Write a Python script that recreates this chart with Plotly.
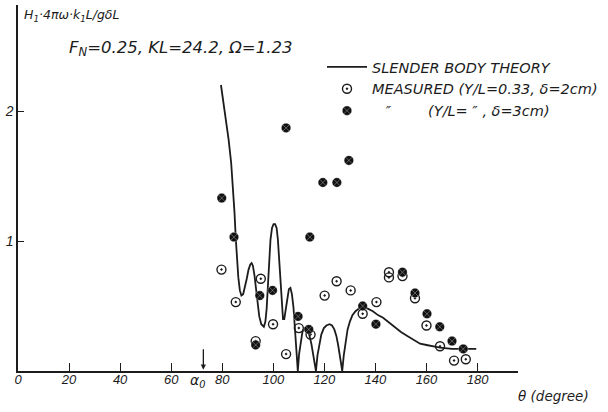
import plotly.graph_objects as go

# ---- data ----
theory_deg = [79.5, 80.5, 81.5, 82.5, 83.5, 84.2, 84.8, 85.3, 85.8, 86.3,
              86.9, 87.5, 88.2, 88.9, 89.6, 90.3, 91.0, 91.5, 92.0, 92.6,
              93.2, 93.8, 94.5, 95.3, 96.3, 96.9, 97.4, 97.9, 98.4, 98.9,
              99.5, 100.1, 100.7, 101.3, 101.8, 102.3, 102.8, 103.3, 103.8, 104.3,
              104.9, 105.5, 106.1, 106.7, 107.3, 107.9, 108.5, 109.1, 109.6, 110.1,
              110.7, 111.4, 112.1, 112.8, 113.5, 114.2, 114.9, 115.6, 116.2, 116.7,
              117.3, 118.0, 118.8, 119.8, 120.8, 122.0, 123.0, 123.9, 124.7, 125.4,
              126.1, 127.0, 127.6, 128.3, 129.1, 130.0, 131.0, 132.2, 133.5, 135.2,
              137.0, 139.0, 141.0, 143.0, 145.0, 147.5, 150.0, 152.5, 155.0, 157.5,
              160.0, 162.5, 165.3, 170.0, 175.0, 179.5]
theory_val = [2.20, 2.07, 1.93, 1.78, 1.60, 1.42, 1.22, 1.02, 0.85, 0.72,
              0.62, 0.58, 0.59, 0.64, 0.71, 0.78, 0.82, 0.83, 0.81, 0.74,
              0.63, 0.51, 0.42, 0.36, 0.34, 0.38, 0.48, 0.66, 0.86, 1.01,
              1.10, 1.13, 1.13, 1.10, 1.01, 0.86, 0.66, 0.48, 0.40, 0.40,
              0.47, 0.57, 0.63, 0.64, 0.59, 0.49, 0.34, 0.17, 0.00, 0.13,
              0.23, 0.30, 0.33, 0.33, 0.31, 0.27, 0.21, 0.13, 0.06, 0.00,
              0.12, 0.21, 0.28, 0.33, 0.35, 0.36, 0.35, 0.32, 0.27, 0.20,
              0.11, 0.00, 0.12, 0.23, 0.32, 0.38, 0.43, 0.46, 0.48, 0.49,
              0.48, 0.46, 0.43, 0.41, 0.38, 0.34, 0.30, 0.27, 0.24, 0.21,
              0.20, 0.19, 0.18, 0.17, 0.17, 0.17]

open_deg = [79.7, 85.3, 95.1, 93.1, 99.9, 105.0, 110.0, 114.6, 120.1, 124.8, 130.3, 135.0,
            140.4, 145.3, 145.3, 150.6, 155.5, 160.0, 165.3, 170.8, 175.4]
open_val = [0.78, 0.53, 0.71, 0.23, 0.36, 0.13, 0.33, 0.28, 0.58, 0.69, 0.62, 0.44,
            0.53, 0.76, 0.72, 0.73, 0.56, 0.35, 0.19, 0.08, 0.09]

dark_deg = [79.8, 84.6, 93.1, 94.7, 99.7, 105.0, 109.7, 113.9, 114.3, 119.4, 124.9, 129.6,
            135.0, 140.2, 150.6, 155.5, 160.2, 165.2, 170.0, 174.4]
dark_val = [1.33, 1.03, 0.20, 0.58, 0.62, 1.87, 0.42, 0.32, 1.03, 1.45, 1.45, 1.62,
            0.50, 0.36, 0.76, 0.60, 0.44, 0.34, 0.23, 0.17]

x_ticks = [0, 20, 40, 60, 80, 100, 120, 140, 160, 180]
x_ticktext = [str(v) for v in x_ticks]
y_ticks = [1, 2]
y_ticktext = ["1", "2"]
alpha0 = 72.6

INK = "#1c1c1c"
FONT = "DejaVu Sans"
NB = "\u00a0"

W, H = 608, 412
ML, MR, MT, MB = 18, 90, 5, 41
PW, PH = W - ML - MR, H - MT - MB


def px_x(p):
    return (p - ML) / PW


def px_y(p):
    return (H - MB - p) / PH


fig = go.Figure()

fig.add_trace(go.Scatter(
    x=theory_deg, y=theory_val, mode="lines",
    line=dict(color=INK, width=1.8),
    name="SLENDER BODY THEORY",
))
fig.add_trace(go.Scatter(
    x=open_deg, y=open_val, mode="markers",
    marker=dict(symbol="circle-open-dot", size=9, color=INK, line=dict(width=1.4, color=INK)),
    name="MEASURED (Y/L=0.33, δ=2cm)",
))
fig.add_trace(go.Scatter(
    x=dark_deg, y=dark_val, mode="markers",
    marker=dict(symbol="circle-x", size=9.5, color="#111111",
                line=dict(width=0.8, color="rgba(255,255,255,0.4)")),
    name=NB * 3 + "\u2033" + NB * 8 + "(Y/L=" + NB + "\u2033" + NB + "," + NB + "δ=3cm)",
))

annotations = [
    dict(xref="paper", yref="paper", x=px_x(22), y=px_y(15), xanchor="left", yanchor="middle",
         text="H<sub>1</sub>·4πω·k<sub>1</sub>L/gδL", showarrow=False,
         font=dict(family=FONT, size=12.5, color=INK, style="italic")),
    dict(xref="paper", yref="paper", x=px_x(67), y=px_y(48), xanchor="left", yanchor="middle",
         text="F<sub>N</sub>=0.25, KL=24.2, Ω=1.23", showarrow=False,
         font=dict(family=FONT, size=16.5, color=INK, style="italic")),
    dict(xref="paper", yref="paper", x=px_x(591), y=px_y(396), xanchor="right", yanchor="middle",
         text="θ (degree)", showarrow=False,
         font=dict(family=FONT, size=13.5, color=INK, style="italic")),
    dict(xref="x", yref="paper", x=70.5, y=px_y(381), xanchor="center", yanchor="middle",
         text="α<sub>0</sub>", showarrow=False,
         font=dict(family=FONT, size=14, color=INK, style="italic")),
    dict(xref="x", yref="y", x=alpha0, y=0.01, ax=0, ay=-22, text="", showarrow=True,
         arrowhead=2, arrowsize=0.8, arrowwidth=1.3, arrowcolor=INK, standoff=0),
]

fig.update_layout(
    width=W, height=H,
    margin=dict(l=ML, r=MR, t=MT, b=MB, pad=0, autoexpand=False),
    paper_bgcolor="white", plot_bgcolor="white",
    font=dict(family=FONT, color=INK),
    showlegend=True,
    legend=dict(x=px_x(322), y=px_y(51), xanchor="left", yanchor="top",
                bgcolor="rgba(0,0,0,0)", itemwidth=40,
                font=dict(family=FONT, size=14.5, color=INK, style="italic"),
                tracegroupgap=0),
    annotations=annotations,
    xaxis=dict(range=[0, PW / 2.553], showgrid=False, zeroline=False, automargin=False,
               showline=True, linecolor=INK, linewidth=1.5,
               ticks="inside", ticklen=8, tickwidth=1.2, tickcolor=INK,
               tickvals=x_ticks, ticktext=x_ticktext, ticklabelstandoff=-4,
               tickfont=dict(family="Liberation Sans", size=13, color=INK, style="italic")),
    yaxis=dict(range=[0, PH / 130.0], showgrid=False, zeroline=False, automargin=False,
               showline=True, linecolor=INK, linewidth=1.5,
               ticks="inside", ticklen=6, tickwidth=1.2, tickcolor=INK,
               tickvals=y_ticks, ticktext=y_ticktext,
               tickfont=dict(family="Liberation Sans", size=14, color=INK, style="italic")),
)

fig.write_html("out.html", config={"displayModeBar": False},
               post_script="document.body.style.margin='0';document.body.style.overflow='hidden';")
